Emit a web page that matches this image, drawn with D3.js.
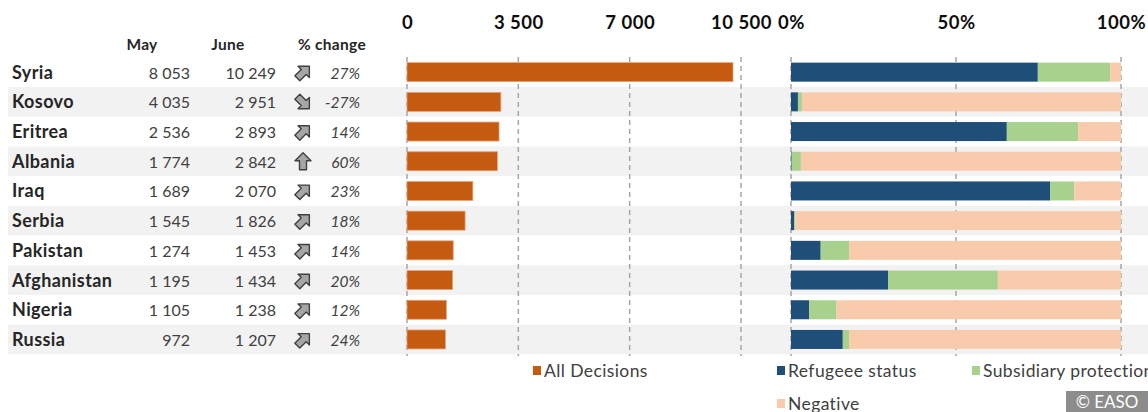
<!DOCTYPE html>
<html lang="en">
<head>
  <meta charset="UTF-8">
  <title>Decisions by citizenship</title>
  <script src="https://d3js.org/d3.v7.min.js"></script>
  <style>
    body { margin: 0; background: #fff; }
    svg { font-family: Lato, "Open Sans", sans-serif; }
  </style>
</head>
<body>
  <svg width="1148" height="412"></svg>

  <script>
    // Data
    const countries = ["Syria", "Kosovo", "Eritrea", "Albania", "Iraq", "Serbia", "Pakistan", "Afghanistan", "Nigeria", "Russia"];
    const may = [8053, 4035, 2536, 1774, 1689, 1545, 1274, 1195, 1105, 972];
    const june = [10249, 2951, 2893, 2842, 2070, 1826, 1453, 1434, 1238, 1207];
    const pctChange = [27, -27, 14, 60, 23, 18, 14, 20, 12, 24];
    // shares of decisions (%)
    const refugee = [74.8, 2.1, 65.4, 0.2, 78.5, 1.0, 9.0, 29.4, 5.5, 15.7];
    const subsidiary = [21.9, 1.2, 21.6, 2.8, 7.3, 0.3, 8.6, 33.3, 8.3, 1.9];
    const negative = [3.3, 96.7, 13.0, 97.0, 14.2, 98.7, 82.4, 37.3, 86.2, 82.4];
    const countTicks = [0, 3500, 7000, 10500];
    const shareTicks = [0, 50, 100];
    const stackKeys = ["Refugeee status", "Subsidiary protection", "Negative"];
    const stackColors = ["#1f4e79", "#a9d18e", "#f8cbad"];
    const barColor = "#c55a11";

    const loc = d3.formatLocale({ decimal: ".", thousands: " ", grouping: [3], currency: ["", ""] });
    const fmt = loc.format(",d");

    const svg = d3.select("svg");

    // rows
    const y = d3.scaleBand()
      .domain(countries)
      .range([57.3, 354.3])
      .paddingInner(0.36)
      .paddingOuter(0.18);
    const step = y.step();
    const rowTop = c => y(c) - y.paddingInner() * step / 2;

    // stripes on every other row
    svg.append("g").selectAll("rect")
      .data(countries.filter((c, i) => i % 2 === 1))
      .join("rect")
      .attr("x", 8)
      .attr("y", c => rowTop(c))
      .attr("width", 1140)
      .attr("height", step)
      .attr("fill", "#f2f2f2");

    // table
    const table = svg.append("g").style("fill", "#262626");
    const headers = [["May", 142], ["June", 228], ["% change", 332]];
    table.selectAll(".hdr")
      .data(headers)
      .join("text")
      .attr("x", d => d[1])
      .attr("y", 50)
      .attr("text-anchor", "middle")
      .style("font-size", "15.5px")
      .style("font-weight", "bold")
      .style("letter-spacing", "0.3px")
      .text(d => d[0]);

    const rows = table.selectAll(".row")
      .data(countries)
      .join("g")
      .attr("transform", c => `translate(0,${y(c) + y.bandwidth() / 2 + 6.5})`);

    rows.append("text")
      .attr("x", 12)
      .style("font-size", "18px")
      .style("font-weight", "bold")
      .style("letter-spacing", "0.4px")
      .text(c => c);
    rows.append("text")
      .attr("x", 190)
      .attr("text-anchor", "end")
      .style("font-size", "16px")
      .style("fill", "#404040")
      .text((c, i) => fmt(may[i]));
    rows.append("text")
      .attr("x", 276)
      .attr("text-anchor", "end")
      .style("font-size", "16px")
      .style("fill", "#404040")
      .text((c, i) => fmt(june[i]));
    rows.append("text")
      .attr("x", 360)
      .attr("text-anchor", "end")
      .style("font-size", "15.5px")
      .style("font-style", "italic")
      .style("fill", "#404040")
      .text((c, i) => pctChange[i] + "%");

    // block arrows (icon set)
    const arrowPath = "M0,-9 L8,-1 L3.5,-1 L3.5,8 L-3.5,8 L-3.5,-1 L-8,-1 Z";
    rows.append("path")
      .attr("d", arrowPath)
      .attr("transform", (c, i) => {
        const p = pctChange[i];
        const rot = p >= 50 ? 0 : (p > 0 ? 45 : 135);
        return `translate(303,-6) rotate(${rot})`;
      })
      .attr("fill", "#a6a6a6")
      .attr("stroke", "#404040")
      .attr("stroke-width", 1.4)
      .attr("stroke-linejoin", "round");

    // left bar chart: all decisions
    const x1 = d3.scaleLinear().domain([0, 10500]).range([407, 741]);
    const gridTop = 57, gridBottom = 356;

    svg.append("g").selectAll("line")
      .data(countTicks)
      .join("line")
      .attr("x1", d => x1(d)).attr("x2", d => x1(d))
      .attr("y1", gridTop).attr("y2", gridBottom)
      .attr("stroke", "#a6a6a6")
      .attr("stroke-width", 1.5)
      .attr("stroke-dasharray", "5,4");

    const axisText = sel => sel.selectAll("text")
      .style("font-family", "Lato, sans-serif")
      .style("font-size", "18.5px")
      .style("font-weight", "bold")
      .style("letter-spacing", "0.5px")
      .attr("fill", "#0d0d0d");

    svg.append("g")
      .attr("transform", "translate(0,32)")
      .call(d3.axisTop(x1).tickValues(countTicks).tickFormat(fmt).tickSize(0))
      .call(g => g.select(".domain").remove())
      .call(axisText);

    svg.append("g").selectAll("rect")
      .data(countries)
      .join("rect")
      .attr("x", x1(0))
      .attr("y", c => y(c))
      .attr("width", (c, i) => x1(june[i]) - x1(0))
      .attr("height", y.bandwidth())
      .attr("fill", barColor)
      .attr("stroke", "#e6a47c")
      .attr("stroke-width", 0.8);

    // right chart: 100% stacked shares
    const x2 = d3.scaleLinear().domain([0, 100]).range([791, 1121]);

    svg.append("g").selectAll("line")
      .data(shareTicks)
      .join("line")
      .attr("x1", d => x2(d)).attr("x2", d => x2(d))
      .attr("y1", gridTop).attr("y2", gridBottom)
      .attr("stroke", "#a6a6a6")
      .attr("stroke-width", 1.5)
      .attr("stroke-dasharray", "5,4");

    svg.append("g")
      .attr("transform", "translate(0,32)")
      .call(d3.axisTop(x2).tickValues(shareTicks).tickFormat(d => d + "%").tickSize(0))
      .call(g => g.select(".domain").remove())
      .call(axisText);

    const shareRows = countries.map((c, i) => ({
      country: c,
      "Refugeee status": refugee[i],
      "Subsidiary protection": subsidiary[i],
      "Negative": negative[i]
    }));
    const stacked = d3.stack().keys(stackKeys)(shareRows);
    const color = d3.scaleOrdinal().domain(stackKeys).range(stackColors);

    svg.append("g").selectAll("g")
      .data(stacked)
      .join("g")
      .attr("fill", d => color(d.key))
      .selectAll("rect")
      .data(d => d)
      .join("rect")
      .attr("x", d => x2(d[0]))
      .attr("y", d => y(d.data.country))
      .attr("width", d => x2(d[1]) - x2(d[0]))
      .attr("height", y.bandwidth());

    // legends
    const legendItems = [
      { label: "All Decisions", color: barColor, x: 537, y: 371 },
      { label: "Refugeee status", color: stackColors[0], x: 781, y: 371 },
      { label: "Subsidiary protection", color: stackColors[1], x: 976, y: 371 },
      { label: "Negative", color: stackColors[2], x: 781, y: 404 }
    ];
    const legend = svg.append("g").selectAll("g")
      .data(legendItems)
      .join("g")
      .attr("transform", d => `translate(${d.x},${d.y})`);
    legend.append("rect")
      .attr("x", -4).attr("y", -5)
      .attr("width", 8).attr("height", 9)
      .attr("fill", d => d.color);
    legend.append("text")
      .attr("x", 7).attr("y", 6)
      .style("font-size", "17.5px")
      .style("letter-spacing", "0.4px")
      .style("fill", "#404040")
      .text(d => d.label);

    // copyright badge
    svg.append("rect")
      .attr("x", 1066).attr("y", 391)
      .attr("width", 82).attr("height", 21)
      .attr("fill", "#8c8c8c");
    svg.append("text")
      .attr("x", 1107).attr("y", 408)
      .attr("text-anchor", "middle")
      .style("font-size", "17px")
      .style("fill", "#fff")
      .text("© EASO");
  </script>
</body>
</html>
